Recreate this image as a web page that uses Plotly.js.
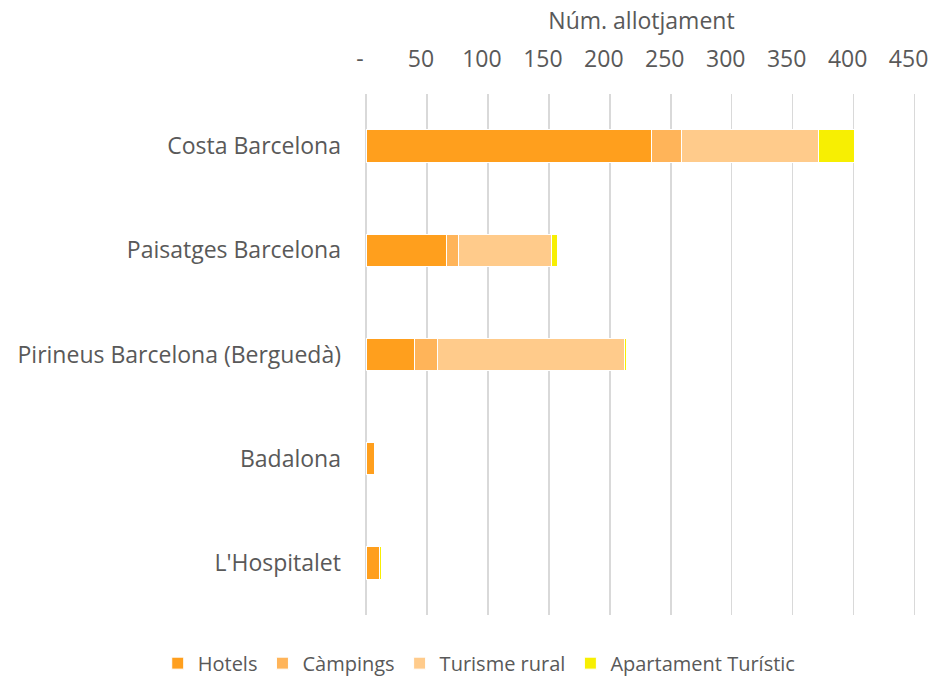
<!DOCTYPE html>
<html><head><meta charset="utf-8">
<script src="https://cdn.plot.ly/plotly-3.0.1.min.js"></script>
<style>html,body{margin:0;padding:0;background:#fff}#chart{width:930px;height:679px}</style>
</head><body><div id="chart"></div>
<script>
const categories = ["Costa Barcelona", "Paisatges Barcelona", "Pirineus Barcelona (Berguedà)", "Badalona", "L'Hospitalet"];
const seriesNames = ["Hotels", "Càmpings", "Turisme rural", "Apartament Turístic"];
const hotels = [234, 66, 40, 7, 11];
const campings = [25, 10, 19, 0, 0];
const turismeRural = [112, 76, 153, 0, 0];
const apartament = [30, 5, 2, 0, 2];
const colors = ["#FF9F1D", "#FFB459", "#FFCB8B", "#F7EF02"];
const tickVals = [0, 50, 100, 150, 200, 250, 300, 350, 400, 450];
const tickText = ["-", "50", "100", "150", "200", "250", "300", "350", "400", "450"];

const values = [hotels, campings, turismeRural, apartament];
const traces = values.map((v, i) => ({
  type: 'bar', orientation: 'h', name: seriesNames[i],
  x: v, y: categories,
  marker: {color: colors[i], line: {color: '#ffffff', width: 1}},
  width: 0.31, hoverinfo: 'x+name'
}));

const fam = "'Open Sans', 'Noto Sans', sans-serif";
const font = {family: fam, color: '#595959', size: 23};
const legendFont = {family: fam, color: '#595959', size: 20};
const layout = {
  barmode: 'stack',
  width: 930, height: 679,
  margin: {l: 366, r: 13, t: 94, b: 64, autoexpand: false},
  paper_bgcolor: '#fff', plot_bgcolor: '#fff',
  font: font,
  showlegend: true,
  xaxis: {
    side: 'top', range: [0, 452], tickvals: tickVals, ticktext: tickText,
    showgrid: true, gridcolor: '#D9D9D9', gridwidth: 1.5,
    zeroline: true, zerolinecolor: '#D9D9D9', zerolinewidth: 1.5,
    showline: false, ticks: '', ticklen: 0, automargin: false,
    tickfont: font, ticklabelstandoff: 21, ticklabelshift: -6, ticklabeloverflow: 'allow',
    title: {text: 'Núm. allotjament', font: font, standoff: 6}
  },
  yaxis: {
    categoryorder: 'array', categoryarray: categories, autorange: 'reversed',
    showgrid: false, zeroline: false, showline: false, ticks: '',
    tickfont: font, ticklabelstandoff: 24, automargin: false
  },
  legend: {
    orientation: 'h', xref: 'paper', yref: 'paper',
    x: -0.378, xanchor: 'left', y: -0.055, yanchor: 'top',
    font: legendFont, traceorder: 'normal', itemwidth: 30
  }
};
Plotly.newPlot('chart', traces, layout, {displayModeBar: false, staticPlot: true});
</script></body></html>
